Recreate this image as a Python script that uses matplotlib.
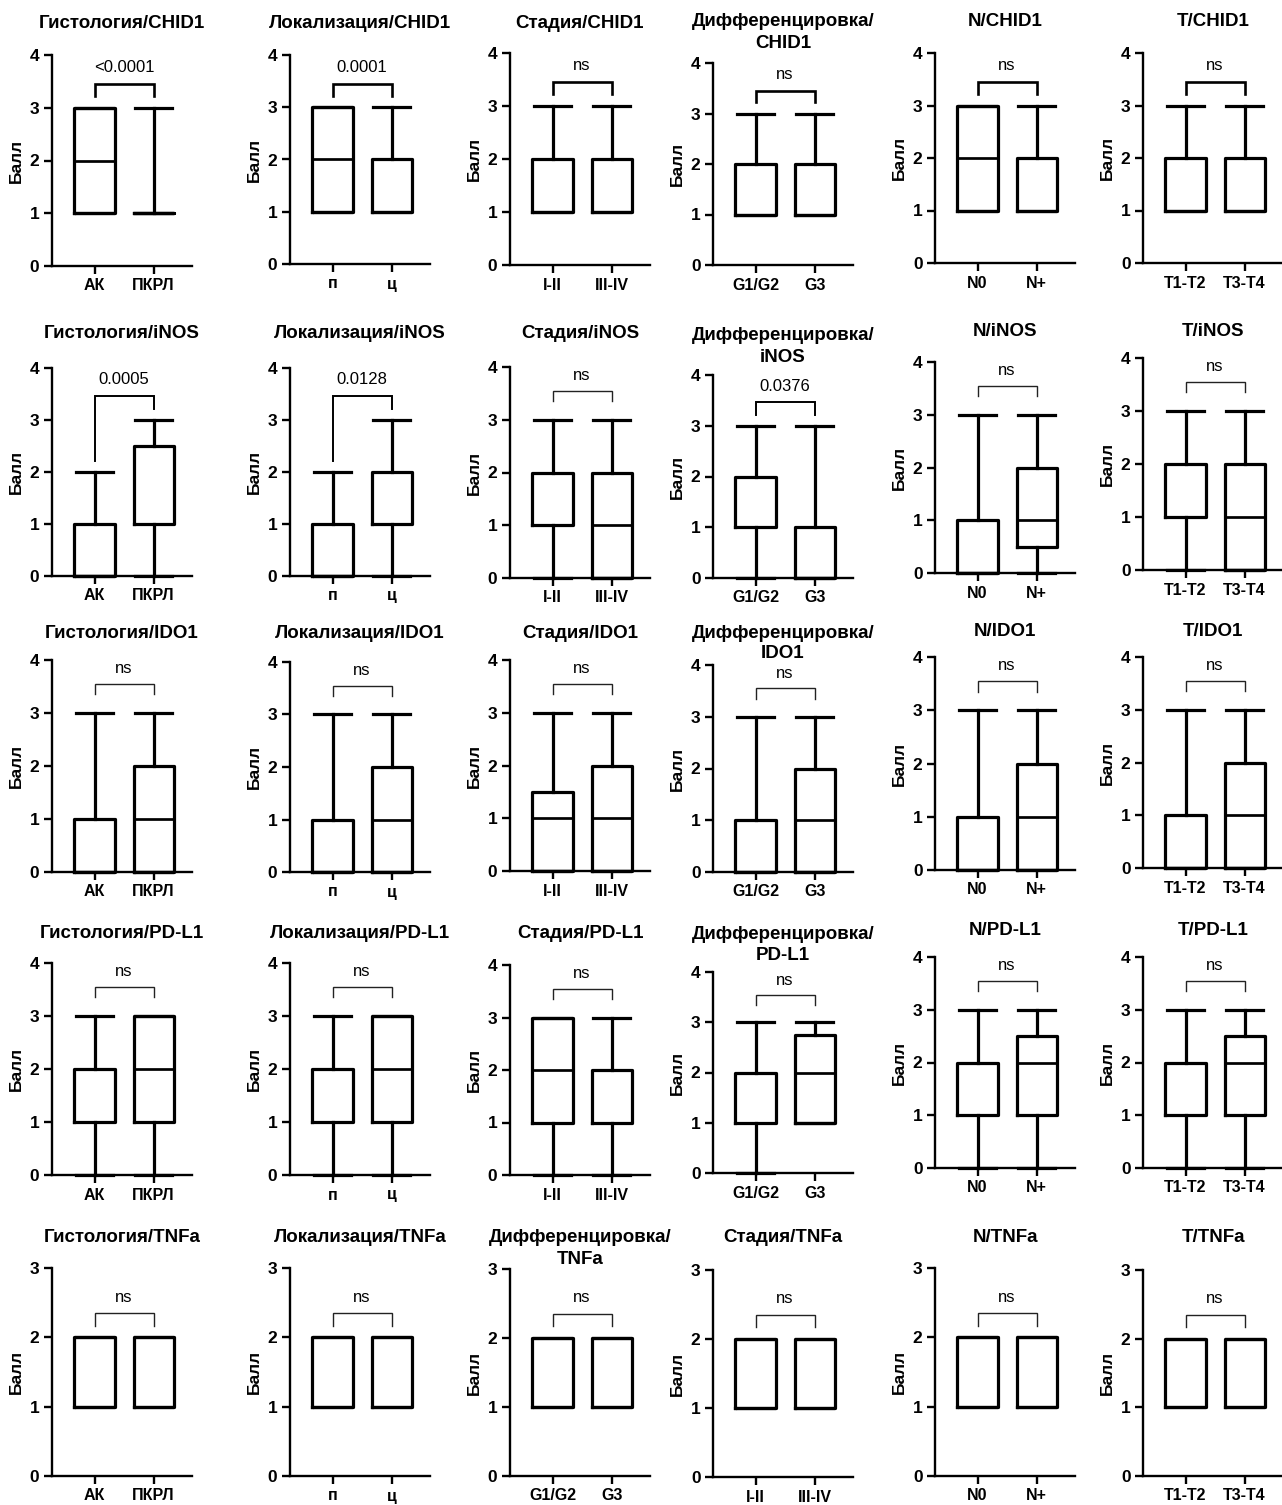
import matplotlib
matplotlib.use("Agg")
import matplotlib.pyplot as plt

plt.rcParams['font.family'] = ['Liberation Sans', 'DejaVu Sans']

W, H = 1282, 1505

# ---------------- DATA ----------------
markers = ["CHID1", "iNOS", "IDO1", "PD-L1", "TNFa"]

factors_main = ["Гистология", "Локализация", "Стадия", "Дифференцировка", "N", "T"]
factors_tnfa = ["Гистология", "Локализация", "Дифференцировка", "Стадия", "N", "T"]

group_labels = {
    "Гистология": ["АК", "ПКРЛ"],
    "Локализация": ["п", "ц"],
    "Стадия": ["I-II", "III-IV"],
    "Дифференцировка": ["G1/G2", "G3"],
    "N": ["N0", "N+"],
    "T": ["T1-T2", "T3-T4"],
}

# five-number summaries: (min, q1, median, q3, max) for the two groups
chid1 = {
    "Гистология":      [(1, 1, 2, 3, 3), (1, 1, 1, 1, 3)],
    "Локализация":     [(1, 1, 2, 3, 3), (1, 1, 1, 2, 3)],
    "Стадия":          [(1, 1, 1, 2, 3), (1, 1, 1, 2, 3)],
    "Дифференцировка": [(1, 1, 1, 2, 3), (1, 1, 1, 2, 3)],
    "N":               [(1, 1, 2, 3, 3), (1, 1, 1, 2, 3)],
    "T":               [(1, 1, 2, 2, 3), (1, 1, 1, 2, 3)],
}
inos = {
    "Гистология":      [(0, 0, 1, 1, 2), (0, 1, 1, 2.5, 3)],
    "Локализация":     [(0, 0, 1, 1, 2), (0, 1, 1, 2, 3)],
    "Стадия":          [(0, 1, 1, 2, 3), (0, 0, 1, 2, 3)],
    "Дифференцировка": [(0, 1, 1, 2, 3), (0, 0, 1, 1, 3)],
    "N":               [(0, 0, 1, 1, 3), (0, 0.5, 1, 2, 3)],
    "T":               [(0, 1, 1, 2, 3), (0, 0, 1, 2, 3)],
}
ido1 = {
    "Гистология":      [(0, 0, 1, 1, 3), (0, 0, 1, 2, 3)],
    "Локализация":     [(0, 0, 1, 1, 3), (0, 0, 1, 2, 3)],
    "Стадия":          [(0, 0, 1, 1.5, 3), (0, 0, 1, 2, 3)],
    "Дифференцировка": [(0, 0, 1, 1, 3), (0, 0, 1, 2, 3)],
    "N":               [(0, 0, 1, 1, 3), (0, 0, 1, 2, 3)],
    "T":               [(0, 0, 1, 1, 3), (0, 0, 1, 2, 3)],
}
pdl1 = {
    "Гистология":      [(0, 1, 2, 2, 3), (0, 1, 2, 3, 3)],
    "Локализация":     [(0, 1, 2, 2, 3), (0, 1, 2, 3, 3)],
    "Стадия":          [(0, 1, 2, 3, 3), (0, 1, 2, 2, 3)],
    "Дифференцировка": [(0, 1, 2, 2, 3), (1, 1, 2, 2.75, 3)],
    "N":               [(0, 1, 2, 2, 3), (0, 1, 2, 2.5, 3)],
    "T":               [(0, 1, 2, 2, 3), (0, 1, 2, 2.5, 3)],
}
tnfa = {
    "Гистология":      [(1, 1, 1, 2, 2), (1, 1, 1, 2, 2)],
    "Локализация":     [(1, 1, 1, 2, 2), (1, 1, 1, 2, 2)],
    "Дифференцировка": [(1, 1, 1, 2, 2), (1, 1, 1, 2, 2)],
    "Стадия":          [(1, 1, 1, 2, 2), (1, 1, 1, 2, 2)],
    "N":               [(1, 1, 1, 2, 2), (1, 1, 1, 2, 2)],
    "T":               [(1, 1, 1, 2, 2), (1, 1, 1, 2, 2)],
}

chid1_p = ["<0.0001", "0.0001", "ns", "ns", "ns", "ns"]
inos_p = ["0.0005", "0.0128", "ns", "0.0376", "ns", "ns"]
ido1_p = ["ns", "ns", "ns", "ns", "ns", "ns"]
pdl1_p = ["ns", "ns", "ns", "ns", "ns", "ns"]
tnfa_p = ["ns", "ns", "ns", "ns", "ns", "ns"]

y_max = [4, 4, 4, 4, 3]

rows = [
    (markers[0], factors_main, chid1, chid1_p),
    (markers[1], factors_main, inos, inos_p),
    (markers[2], factors_main, ido1, ido1_p),
    (markers[3], factors_main, pdl1, pdl1_p),
    (markers[4], factors_tnfa, tnfa, tnfa_p),
]

# ---------------- LAYOUT (pixels) ----------------
col_left = [52, 290, 510, 713, 935, 1143]
ax_w = 140
row_ext = [
    [(55, 266), (55, 264), (53, 265), (63, 265), (53, 263), (53, 263)],
    [(368, 576), (368, 576), (367, 578), (375, 578), (362, 573), (358, 570)],
    [(660, 872), (662, 872), (660, 871), (665, 872), (657, 870), (657, 868)],
    [(963, 1175), (963, 1175), (965, 1175), (972, 1173), (957, 1168), (957, 1168)],
    [(1268, 1476), (1268, 1476), (1269, 1476), (1270, 1477), (1268, 1476), (1270, 1476)],
]
title_y_single = [23, 334, 633, 934, 1238]
title_y_small = [22, 332, 631, 930, 1238]   # N and T columns
title_y_double = [(22, 43), (335, 357), (633, 653), (935, 956), (1238, 1259)]

LW = 2.3
TITLE_FS = 13.5

fig = plt.figure(figsize=(W / 100, H / 100), dpi=100)
fig.patch.set_facecolor('white')


def px_axes(left, top, bottom):
    return fig.add_axes([left / W, 1 - bottom / H, ax_w / W, (bottom - top) / H])


for r, (marker, factors, data, pvals) in enumerate(rows):
    for c, fac in enumerate(factors):
        top, bot = row_ext[r][c]
        ax = px_axes(col_left[c], top, bot)
        ymax = y_max[r]
        g = data[fac]
        stats = []
        for (mn, q1, med, q3, mx), lab in zip(g, group_labels[fac]):
            stats.append(dict(whislo=mn, q1=q1, med=med, q3=q3, whishi=mx,
                              fliers=[], label=lab))
        art = ax.bxp(stats, positions=[1, 2], widths=0.68, capwidths=0.62,
                     showfliers=False,
                     boxprops=dict(color='black', linewidth=LW),
                     whiskerprops=dict(color='black', linewidth=LW),
                     capprops=dict(color='black', linewidth=LW),
                     medianprops=dict(color='black', linewidth=LW * 0.85))
        for lst in art.values():
            for a in lst:
                a.set_clip_on(False)

        ax.set_xlim(0.28, 2.65)
        ax.set_ylim(0, ymax)
        ax.set_yticks(range(ymax + 1))
        ax.set_xticks([1, 2])
        ax.set_xticklabels(group_labels[fac], fontweight='bold', fontsize=11.5)
        for t in ax.get_yticklabels():
            t.set_fontweight('bold')
            t.set_fontsize(12.5)
        for s in ['top', 'right']:
            ax.spines[s].set_visible(False)
        for s in ['left', 'bottom']:
            ax.spines[s].set_linewidth(1.7)
        ax.tick_params(axis='both', width=1.7, length=6, pad=3)
        ax.set_ylabel("Балл", fontweight='bold', fontsize=12.5, labelpad=4)
        ax.patch.set_alpha(0)

        # significance bracket
        p = pvals[c]
        maxes = [s['whishi'] for s in stats]
        if r == 0:
            legs = [m + 0.22 for m in maxes]
            bar, ty, blw, bcol = 3.45, 3.77, 1.9, 'black'
        elif r == 4:
            legs = [2.17, 2.17]
            bar, ty, blw, bcol = 2.35, 2.58, 1.0, '#222222'
        elif p != 'ns':
            legs = [m + 0.22 for m in maxes]
            bar, ty, blw, bcol = 3.46, 3.78, 1.4, 'black'
        else:
            legs = [3.35, 3.35]
            bar, ty, blw, bcol = 3.55, 3.84, 1.0, '#222222'
        ax.plot([1, 1, 2, 2], [legs[0], bar, bar, legs[1]], color=bcol,
                linewidth=blw, clip_on=False, solid_joinstyle='miter')
        ax.text(1.5, ty, p, ha='center', va='center', fontsize=12)

        # title
        cx = (col_left[c] + ax_w / 2) / W
        if fac == "Дифференцировка":
            y1, y2 = title_y_double[r]
            fig.text(cx, 1 - y1 / H, "Дифференцировка/", ha='center',
                     va='center', fontsize=TITLE_FS, fontweight='bold')
            fig.text(cx, 1 - y2 / H, marker, ha='center',
                     va='center', fontsize=TITLE_FS, fontweight='bold')
        else:
            ty_px = title_y_small[r] if fac in ("N", "T") else title_y_single[r]
            fig.text(cx, 1 - ty_px / H, f"{fac}/{marker}", ha='center',
                     va='center', fontsize=TITLE_FS, fontweight='bold')

fig.savefig("out.png", dpi=100, facecolor='white')
